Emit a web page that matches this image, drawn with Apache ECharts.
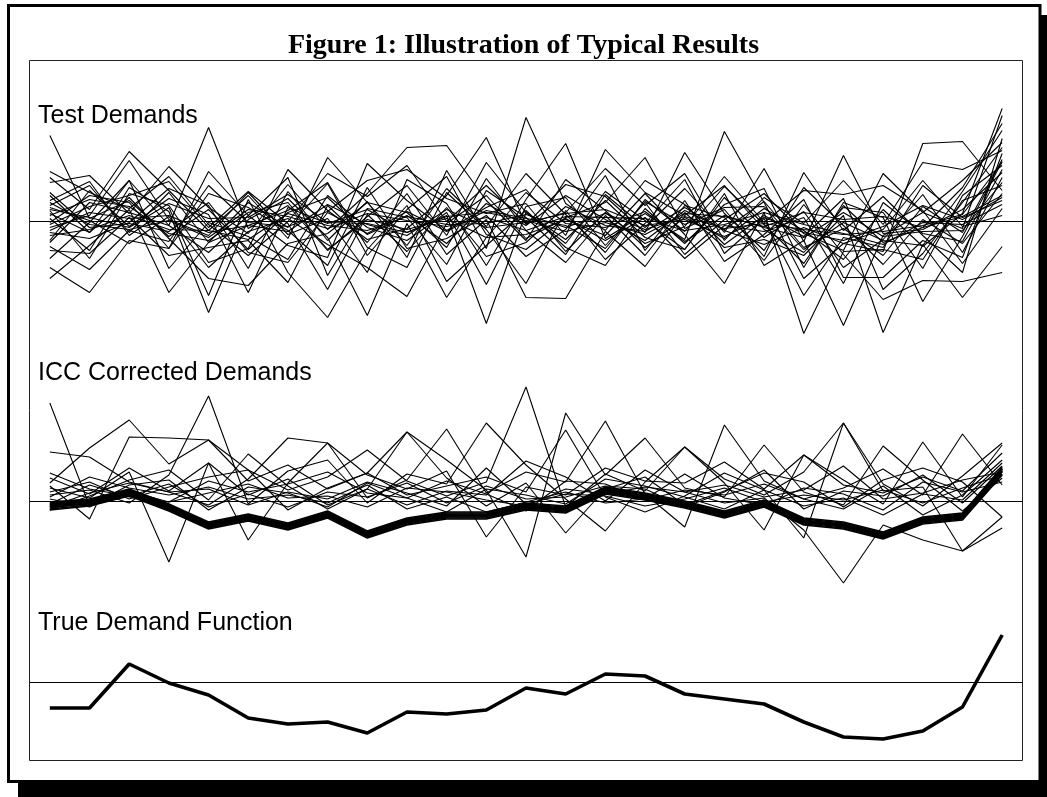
<!DOCTYPE html>
<html>
<head>
<meta charset="utf-8">
<script src="https://cdn.jsdelivr.net/npm/echarts@6/dist/echarts.min.js"></script>
<style>
  html, body { margin: 0; padding: 0; background: #fff; }
  #chart { width: 1047px; height: 797px; }
</style>
</head>
<body>
<div id="chart"></div>
<script>
  // 25 equally spaced price points, no labels shown on the figure
  let points = ['1','2','3','4','5','6','7','8','9','10','11','12','13','14','15','16','17','18','19','20','21','22','23','24','25']

  // Test Demands
  let test01 = [8.6, 0.3, 2.1, -1.5, 1.2, -2.8, 0.9, 2.4, -1.3, 0.6, -2.2, 1.8, -0.4, 2.6, 0.2, -1.9, 1.1, -0.8, 2.0, -2.6, -0.7, -3.4, 1.5, -1.1, 6.2]
  let test02 = [4.4, 1.2, 7.0, 3.1, -0.9, 2.6, -1.7, 6.4, 1.9, -2.4, 3.3, -0.5, 4.8, 0.7, -3.1, 2.2, -1.0, 3.5, -0.3, -4.2, 1.6, -2.1, -0.6, 3.4, 9.8]
  let test03 = [3.9, 4.6, 0.8, 5.5, 1.4, -1.2, 3.7, -0.8, 2.8, 7.4, 7.6, 2.1, -1.9, 4.2, 1.1, -2.6, 0.4, -1.7, 1.3, -0.9, -3.8, 1.2, -2.5, 0.8, 11.3]
  let test04 = [2.6, -1.1, 4.1, -0.4, 9.4, -0.7, 1.6, -2.9, 0.5, 3.6, -1.4, 5.9, 0.9, -2.2, 3.0, 0.1, -2.8, 2.4, -1.6, 1.0, -4.6, -1.8, 2.7, -3.1, 4.4]
  let test05 = [1.6, 3.6, -1.1, 2.9, -2.1, 1.9, -0.6, 3.8, -3.4, 1.2, 4.5, -2.7, 10.4, 1.8, -0.9, 4.1, 1.7, -2.3, 0.6, -1.5, 2.3, -6.8, -3.2, 1.9, 7.4]
  let test06 = [1.1, -3.7, 2.8, 1.6, -4.1, -2.7, 5.2, 1.1, -1.8, -0.7, 2.6, 8.4, -0.3, 3.7, 2.5, -1.1, 6.9, 0.8, -2.9, 3.4, -0.4, -4.3, 0.2, -2.2, 2.8]
  let test07 = [-0.1, 2.6, 1.9, -2.7, 5.0, 0.6, -2.4, -3.6, 5.8, 2.1, -0.9, 1.4, 3.2, -1.4, 7.2, 2.9, 0.6, 3.6, -0.8, -3.1, 1.4, 0.9, -4.7, 2.6, 5.6]
  let test08 = [-0.6, 0.6, 6.1, 0.2, -1.4, 2.9, -1.3, 0.3, -5.1, 4.2, 1.8, -4.4, 2.2, 7.8, -1.7, 0.8, -1.8, 9.0, 1.9, -5.7, -2.2, -3.0, 7.8, 8.0, 3.1]
  let test09 = [-1.1, -1.7, -0.1, 3.3, 1.6, -4.7, 3.0, -1.9, 2.0, -3.6, 5.1, -1.3, -2.8, 0.4, 1.9, 6.4, -0.7, 1.2, -3.5, 4.9, -0.9, 2.5, -1.4, -5.1, 8.3]
  let test10 = [-2.1, 1.9, 0.9, -0.4, -3.1, 0.6, 4.4, -5.4, 1.3, 0.4, -4.3, 3.1, 0.4, -3.3, 2.7, -0.6, 3.3, -1.1, 5.3, -2.0, 6.6, -1.2, -0.8, 1.2, 4.9]
  let test11 = [-3.7, -0.1, 4.1, -4.7, -0.1, -1.5, -3.8, 2.6, -0.6, -1.9, 0.9, -6.3, 1.5, 2.4, -2.4, 1.9, -3.3, 0.2, 2.8, -1.2, -2.9, 4.8, 0.9, -0.7, 10.6]
  let test12 = [-4.6, -7.1, -1.9, -2.7, 2.8, 1.4, -0.9, -4.4, 3.4, -2.7, -1.7, 0.6, -3.5, -0.8, 4.6, -2.9, 2.1, -4.0, -1.3, 2.2, -5.6, -5.6, -1.9, -3.6, 6.8]
  let test13 = [-5.7, -2.4, 1.2, -7.1, -2.1, -0.4, 1.1, 3.9, -2.6, -4.6, 2.9, -0.8, -6.2, 1.1, -3.8, -0.2, 4.2, -3.2, 0.3, -7.4, -1.6, -2.6, 3.6, 0.4, 2.1]
  let test14 = [0.8, -1.1, 2.4, -1.7, -5.7, -6.4, -2.2, -1.2, 1.9, 0.9, -2.6, 4.3, -0.9, -4.1, 0.6, -3.4, 1.6, 0.4, -3.9, 1.7, -3.3, -7.8, -5.9, -6.0, -5.1]
  let test15 = [2.1, 4.0, -1.4, 1.4, -7.4, 2.2, -5.1, -9.6, -2.8, 1.6, -6.0, -2.4, 1.1, -2.6, -4.4, 1.3, -2.2, 1.7, 3.3, -4.6, 1.9, 0.4, -8.0, -1.5, 6.0]
  let test16 = [0.3, -2.9, 3.4, 1.0, -9.1, 0.2, 2.3, -1.6, -9.4, -0.2, -7.6, -1.6, -1.3, 0.2, -1.4, 2.8, -1.3, -6.2, 0.9, -11.2, -3.0, -2.8, -3.8, 2.1, 3.6]
  let test17 = [-1.9, 3.1, -0.5, 2.3, 0.7, -7.1, 1.4, -0.2, 1.2, -1.1, 0.6, -10.2, 0.9, -1.8, 2.1, -1.6, -2.8, 2.8, -4.4, -1.9, -10.4, -1.4, 0.9, 4.1, 7.9]
  let test18 = [-2.9, -3.2, 0.4, -3.4, -2.6, -1.9, -6.1, 1.6, -2.1, 2.8, -3.3, 0.2, -7.6, -7.7, -1.0, -4.5, 0.9, -2.6, -1.8, -3.4, 0.6, -11.1, -2.3, -7.6, -2.5]
  let test19 = [1.4, 0.1, -2.2, 0.5, -4.6, -1.0, 0.3, -2.3, -4.6, -7.5, -0.2, 2.6, -1.7, 0.3, -1.9, 0.4, -3.7, -0.4, -1.0, 0.4, -6.2, 1.9, -1.2, -2.0, 5.2]
  let test20 = [-0.3, 1.5, 2.6, 4.0, -0.6, 3.0, -0.2, -6.8, 0.7, -3.0, 1.4, -3.5, -2.1, 1.5, -0.4, -1.0, 1.4, -0.9, -2.3, -0.6, -2.2, -0.8, 4.1, -0.5, 0.6]
  let test21 = [2.9, -0.6, -0.2, -1.0, 1.9, -3.1, -4.1, 0.9, -1.2, 1.0, -1.0, 1.1, 0.3, -0.4, -2.7, 2.0, -0.3, 1.4, 1.5, -2.8, -0.1, -1.9, -2.4, 3.0, 9.1]
  let test22 = [0.6, 2.2, 1.5, -1.2, -1.9, 0.9, 1.9, -2.8, 0.2, -0.8, 0.3, -1.6, 2.9, -0.2, -0.6, 1.0, -2.0, 0.6, -0.6, -1.6, 0.9, -1.5, -1.0, -0.9, 3.9]
  let test23 = [-0.9, 0.9, 0.3, 0.6, -1.1, -0.4, -1.0, 1.7, -0.3, -1.4, 1.2, -0.6, -0.1, 0.8, 1.2, -0.4, 0.2, -1.5, 0.4, -1.1, -1.9, -0.5, 1.6, 0.2, 2.4]
  let test24 = [1.9, -0.3, -0.8, 0.1, -1.6, 1.2, 0.5, -0.7, 0.8, 0.1, -0.5, 0.4, -0.9, 0.5, 0.4, 0.3, -0.9, -0.3, 0.9, -0.3, -1.2, -2.3, -0.1, -0.3, 1.7]
  let test25 = [-1.4, -0.8, 0.6, -0.8, -0.9, -1.8, 0.8, -0.4, -0.9, 0.5, -0.3, -0.2, 0.7, -0.6, 0.8, -0.8, 0.5, -0.7, -0.2, -0.8, -1.3, -1.0, -0.4, 0.7, 5.9]
  let test26 = [5.0, 2.9, 1.3, 4.5, -0.3, -3.4, 0.0, 4.8, 2.5, 5.6, 0.0, 3.6, -0.2, 0.9, 5.3, 1.6, 4.8, -1.9, 2.4, -0.2, 4.1, -0.3, 5.9, 5.2, 7.1]
  let test27 = [-2.5, -4.8, -0.9, -2.0, 3.6, -0.1, -0.5, 1.0, 4.1, 5.2, 2.3, 0.8, 1.8, -3.0, 0.9, -2.2, -0.5, 4.5, -0.1, 3.1, 2.7, 3.6, 1.1, -4.2, 1.3]
  let test28 = [1.2, 0.4, -0.6, 1.8, 0.3, 0.4, 2.7, -0.1, -0.2, -1.1, 0.5, 0.9, 0.1, -1.0, -0.1, -1.3, 0.8, 0.5, -0.5, 0.9, 0.2, 0.5, -0.6, 0.5, 2.6]

  // ICC Corrected Demands - the tight bundle
  let icc01 = [-0.4, -0.1, 0.9, -0.6, -2.4, -1.6, -2.5, -1.3, -3.3, -2.0, -1.4, -1.4, -0.5, -0.8, 1.1, 0.5, -0.3, -1.3, -0.2, -2.0, -2.4, -3.4, -1.9, -1.5, 3.1]
  let icc02 = [-0.6, -0.3, 0.7, -0.8, -2.6, -1.8, -2.7, -1.5, -3.5, -2.2, -1.6, -1.6, -0.7, -1.0, 0.9, 0.3, -0.5, -1.5, -0.4, -2.2, -2.6, -3.6, -2.1, -1.7, 2.9]
  let icc03 = [-0.2, 0.1, 1.1, -0.4, -2.2, -1.4, -2.3, -1.1, -3.1, -1.8, -1.2, -1.2, -0.3, -0.6, 1.3, 0.7, -0.1, -1.1, 0.0, -1.8, -2.2, -3.2, -1.7, -1.3, 3.3]
  let icc04 = [-0.8, -0.4, 0.6, -0.9, -2.7, -1.9, -2.8, -1.6, -3.6, -2.3, -1.7, -1.7, -0.8, -1.1, 0.8, 0.2, -0.6, -1.6, -0.5, -2.3, -2.7, -3.7, -2.2, -1.8, 2.7]
  let icc05 = [-0.5, -0.2, 0.8, -0.7, -2.5, -1.7, -2.6, -1.4, -3.4, -2.1, -1.5, -1.5, -0.6, -0.9, 1.0, 0.4, -0.4, -1.4, -0.3, -2.1, -2.5, -3.5, -2.0, -1.6, 3.0]
  let icc06 = [-0.3, 0.0, 1.0, -0.5, -2.3, -1.5, -2.4, -1.2, -3.2, -1.9, -1.3, -1.3, -0.4, -0.7, 1.2, 0.6, -0.2, -1.2, -0.1, -1.9, -2.3, -3.3, -1.8, -1.4, 3.2]
  let icc07 = [-0.9, -0.5, 0.5, -1.0, -2.8, -2.0, -2.9, -1.7, -3.7, -2.4, -1.8, -1.8, -0.9, -1.2, 0.7, 0.1, -0.7, -1.7, -0.6, -2.4, -2.8, -3.8, -2.3, -1.9, 2.6]
  let icc08 = [-0.1, 0.2, 1.2, -0.3, -2.1, -1.3, -2.2, -1.0, -3.0, -1.7, -1.1, -1.1, -0.2, -0.5, 1.4, 0.8, 0.0, -1.0, 0.1, -1.7, -2.1, -3.1, -1.6, -1.2, 3.4]
  let icc09 = [-0.7, -0.2, 0.8, -0.6, -2.6, -1.6, -2.6, -1.4, -3.3, -2.1, -1.5, -1.4, -0.6, -0.8, 1.0, 0.5, -0.4, -1.3, -0.3, -2.1, -2.4, -3.5, -1.9, -1.6, 3.0]
  let icc10 = [-0.4, 0.0, 0.9, -0.5, -2.3, -1.7, -2.4, -1.3, -3.4, -1.9, -1.4, -1.5, -0.5, -0.9, 1.1, 0.4, -0.3, -1.4, -0.2, -2.0, -2.5, -3.4, -2.0, -1.5, 3.2]
  // ICC Corrected Demands - the ones that stay noisy
  let icc11 = [9.8, -0.5, 1.6, 2.1, -0.9, 1.4, 0.8, -0.6, 1.8, 0.3, -1.1, 1.2, 0.6, -0.3, 2.2, 1.5, 0.4, -0.8, 1.1, -0.5, 0.3, -1.4, 0.7, 0.1, 3.8]
  let icc12 = [4.9, 4.4, 1.9, 0.9, -0.4, 2.2, 6.3, 5.8, 2.6, 1.2, 3.0, -3.6, 1.4, 0.6, 3.3, 2.0, 1.8, 3.9, 1.2, 4.6, 1.6, 0.8, 2.4, 1.0, 4.8]
  let icc13 = [1.8, 5.3, 8.1, 3.7, 6.1, 3.1, 1.1, 2.4, 5.1, 2.0, 0.5, 1.9, 11.4, -0.6, 2.7, 1.0, 5.4, 2.2, 0.6, 2.9, 7.8, 1.7, -0.5, 2.5, 5.8]
  let icc14 = [1.5, -1.8, 6.4, 6.3, 6.1, 2.0, 3.6, 1.2, 2.8, 6.9, 4.1, 1.1, -5.6, 8.8, 2.6, 6.3, 1.3, 0.4, 5.6, 0.9, -0.4, 5.5, 2.1, -1.0, 2.3]
  let icc15 = [1.3, 0.3, 2.9, -6.1, 3.8, -3.9, 1.8, 5.8, 0.3, 2.1, 7.2, 0.8, 2.9, 1.9, 8.0, 0.7, -2.6, 7.6, 2.0, 0.2, 1.3, 3.2, 0.6, 6.7, 1.6]
  let icc16 = [0.6, 1.1, -0.2, 2.6, 10.5, -0.3, 3.0, 4.1, -0.2, 2.7, 1.7, 7.8, 3.6, 0.2, -3.0, 1.9, 5.4, 1.8, -2.9, 4.6, 2.1, -0.3, 5.9, 0.4, 5.6]
  let icc17 = [0.9, 1.9, 0.2, 1.4, 2.4, 3.1, -0.9, 1.3, 2.8, 0.6, 1.5, 2.4, 0.9, 7.1, 0.4, -1.1, 0.5, 2.8, 1.1, -3.7, 7.8, 1.0, 1.4, -5.0, -2.7]
  let icc18 = [2.3, 0.7, 3.3, 1.0, 3.8, 0.6, 2.2, -0.4, 1.2, 6.9, 2.3, -0.5, 1.8, -3.2, 1.2, 2.4, -0.4, 1.0, 2.8, 1.9, -0.6, 2.1, 3.3, 1.9, -1.6]
  let icc19 = [-0.3, 1.6, 0.4, -0.1, 0.8, 1.7, 0.3, 0.5, -0.6, 1.3, 0.9, 0.1, -0.5, 1.2, 0.7, 1.4, 0.9, -0.2, 0.3, -2.9, -8.2, -2.4, -3.9, -5.0, -1.6]
  let icc20 = [0.4, 2.4, 1.3, 0.6, 1.4, 0.2, 0.6, -0.2, 1.6, -0.8, 0.4, -1.1, -0.1, 0.9, -0.2, 0.2, 2.7, 0.3, -0.4, 1.3, 0.7, -0.9, 1.9, 0.9, 1.9]
  let icc21 = [-0.9, 0.5, 2.1, 3.1, 0.1, 4.7, 1.5, -0.8, 1.2, -0.4, 1.0, 0.6, 4.0, 2.4, 0.0, 3.1, 0.9, 1.6, 0.4, 1.1, 3.5, 0.2, 0.8, 2.1, 2.9]
  let icc22 = [0.2, -0.6, 1.0, -0.1, 2.0, 0.9, 1.7, 2.9, 0.8, 0.3, 2.0, 0.7, -1.0, 2.0, 1.7, 0.1, 1.1, 0.6, 1.7, 0.2, -0.8, 1.5, -1.4, 0.6, 4.1]
  let icc23 = [2.8, 1.2, 0.5, 1.7, -0.6, 0.7, -0.6, 0.9, 0.4, 1.8, -0.2, 1.5, 0.2, 0.4, 1.5, 1.2, -0.6, 0.9, 3.1, -0.8, 1.0, 0.5, 2.6, -0.2, 3.5]
  let icc24 = [-0.6, 0.8, 1.8, 0.9, 1.2, -0.4, 0.9, 0.2, 1.9, 0.8, -0.5, 3.3, -0.3, 0.7, 0.5, -0.5, 0.2, 1.3, -0.1, 0.6, 0.1, 1.1, -0.2, 1.3, 2.6]

  // True Demand Function
  let trueDemand = [-2.6, -2.6, 1.8, -0.1, -1.3, -3.6, -4.2, -4.0, -5.1, -3.0, -3.2, -2.8, -0.6, -1.2, 0.8, 0.6, -1.2, -1.7, -2.2, -4.0, -5.5, -5.7, -4.9, -2.5, 4.7]

  let testSets = [test01, test02, test03, test04, test05, test06, test07, test08, test09, test10, test11, test12, test13, test14,
    test15, test16, test17, test18, test19, test20, test21, test22, test23, test24, test25, test26, test27, test28]
  let iccNoisy = [icc11, icc12, icc13, icc14, icc15, icc16, icc17, icc18, icc19, icc20, icc21, icc22, icc23, icc24]
  let iccBundle = [icc01, icc02, icc03, icc04, icc05, icc06, icc07, icc08, icc09, icc10]

  let chart = echarts.init(document.getElementById('chart'), null, { renderer: 'canvas' })

  let thinLine = (data, idx, w) => ({
    type: 'line',
    xAxisIndex: idx,
    yAxisIndex: idx,
    data: data,
    symbol: 'none',
    silent: true,
    lineStyle: { color: '#000', width: w }
  })

  let xAxisFor = (idx) => ({
    type: 'category',
    gridIndex: idx,
    data: points,
    boundaryGap: true,
    axisLine: { show: true, onZero: true, lineStyle: { color: '#000', width: 1.2 } },
    axisTick: { show: false },
    axisLabel: { show: false },
    splitLine: { show: false }
  })

  let yAxisFor = (idx, min, max) => ({
    type: 'value',
    gridIndex: idx,
    min: min,
    max: max,
    show: false,
    splitLine: { show: false }
  })

  let panelLabel = (text, top) => ({
    text: text,
    left: 38,
    top: top,
    padding: 0,
    textStyle: { fontFamily: 'Liberation Sans', fontSize: 25, fontWeight: 'normal', color: '#000', lineHeight: 25 }
  })

  let series = []
  testSets.forEach(d => series.push(thinLine(d, 0, 1.1)))
  iccNoisy.forEach(d => series.push(thinLine(d, 1, 1.1)))
  iccBundle.forEach(d => series.push(thinLine(d, 1, 1.5)))
  series.push({
    type: 'line',
    xAxisIndex: 2,
    yAxisIndex: 2,
    data: trueDemand,
    symbol: 'none',
    silent: true,
    lineStyle: { color: '#000', width: 3.6 }
  })

  let option = {
    animation: false,
    backgroundColor: '#fff',
    title: [
      {
        text: 'Figure 1: Illustration of Typical Results',
        left: 'center',
        top: 32,
        padding: 0,
        textStyle: { fontFamily: 'Liberation Serif', fontSize: 28, fontWeight: 'bold', color: '#000', lineHeight: 28 }
      },
      panelLabel('Test Demands', 104),
      panelLabel('ICC Corrected Demands', 361),
      panelLabel('True Demand Function', 611)
    ],
    // 1 unit = 10px in every panel, zero line at the panel's baseline
    grid: [
      { left: 30, width: 992, top: 101.5, height: 240 },
      { left: 30, width: 992, top: 381, height: 240 },
      { left: 30, width: 992, top: 602, height: 160 }
    ],
    xAxis: [xAxisFor(0), xAxisFor(1), xAxisFor(2)],
    yAxis: [yAxisFor(0, -12, 12), yAxisFor(1, -12, 12), yAxisFor(2, -8, 8)],
    graphic: [
      { type: 'rect', shape: { x: 8.5, y: 5.5, width: 1031.5, height: 776 }, style: { fill: 'none', stroke: '#000', lineWidth: 3 } },
      { type: 'rect', shape: { x: 18, y: 781, width: 1029, height: 16 }, style: { fill: '#000' } },
      { type: 'rect', shape: { x: 1040, y: 15, width: 7, height: 782 }, style: { fill: '#000' } },
      { type: 'rect', shape: { x: 29.5, y: 60.5, width: 993, height: 700 }, style: { fill: 'none', stroke: '#222', lineWidth: 1 } }
    ],
    series: series
  }
  chart.setOption(option)
</script>
</body>
</html>
